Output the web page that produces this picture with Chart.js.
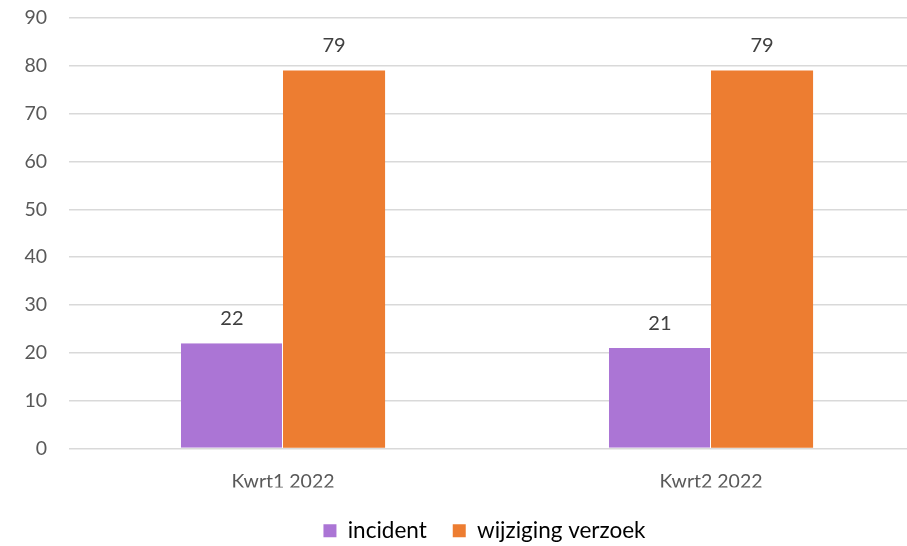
<!DOCTYPE html>
<html>
<head>
<meta charset="utf-8">
<script src="https://cdn.jsdelivr.net/npm/chart.js@4"></script>
<style>
  html, body { margin: 0; padding: 0; background: #fff; overflow: hidden; }
  #wrap { width: 970px; height: 546px; }
</style>
</head>
<body>
<div id="wrap"><canvas id="myChart"></canvas></div>
<script>
const kwartalen = ['Kwrt1 2022', 'Kwrt2 2022'];
const incident = [22, 21];
const wijzigingVerzoek = [79, 79];

const ctx = document.getElementById('myChart');
Chart.defaults.font.family = 'Lato, "Open Sans", sans-serif';

// waarden boven de staven tekenen
const waardeLabels = {
    id: 'waardeLabels',
    afterDatasetsDraw(chart) {
        const c = chart.ctx;
        c.save();
        c.font = '20px Lato, "Open Sans", sans-serif';
        c.fillStyle = '#404040';
        c.textAlign = 'center';
        c.textBaseline = 'middle';
        chart.data.datasets.forEach((ds, i) => {
            chart.getDatasetMeta(i).data.forEach((bar, j) => {
                c.fillText(ds.data[j], bar.x, bar.y - 25);
            });
        });
        c.restore();
    }
};

// legenda iets verschuiven
const legendaPlaats = {
    id: 'legendaPlaats',
    afterLayout(chart) {
        const lg = chart.legend;
        lg.left += 22; lg.right += 22;
        lg.top += 6; lg.bottom += 6;
    }
};

var myChart = new Chart(ctx, {
    type: 'bar',
    data: {
        labels: kwartalen,
        datasets: [{
            label: 'incident',
            data: incident,
            backgroundColor: '#AB75D5',
            borderColor: '#ffffff',
            borderWidth: { right: 1 }
        }, {
            label: 'wijziging verzoek',
            data: wijzigingVerzoek,
            backgroundColor: '#ED7D31'
        }]
    },
    options: {
        responsive: true,
        maintainAspectRatio: false,
        animation: false,
        categoryPercentage: 0.477,
        barPercentage: 1,
        layout: { padding: { top: 18, right: 45, left: 0, bottom: 0 } },
        plugins: {
            tooltip: { enabled: false },
            legend: {
                position: 'bottom',
                labels: {
                    color: '#595959',
                    font: { size: 22.5 },
                    boxWidth: 13,
                    boxHeight: 13,
                    padding: 26,
                    generateLabels(chart) {
                        return chart.data.datasets.map((ds, i) => ({
                            text: ds.label,
                            fillStyle: ds.backgroundColor,
                            strokeStyle: ds.backgroundColor,
                            lineWidth: 0,
                            datasetIndex: i
                        }));
                    }
                }
            }
        },
        scales: {
            x: {
                grid: { display: false },
                border: { display: false },
                ticks: { color: '#595959', font: { size: 19.5 }, padding: 14 },
                afterFit(scale) { scale.height = 39; }
            },
            y: {
                min: 0,
                max: 90,
                ticks: { stepSize: 10, color: '#595959', font: { size: 19.5 }, padding: 22 },
                grid: { color: '#d9d9d9', lineWidth: 1.5, drawTicks: false },
                border: { display: false },
                afterFit(scale) {
                    scale.width = 69;
                    scale.paddingTop = 0;
                    scale.paddingBottom = 0;
                }
            }
        }
    },
    plugins: [waardeLabels, legendaPlaats]
});
</script>
</body>
</html>
